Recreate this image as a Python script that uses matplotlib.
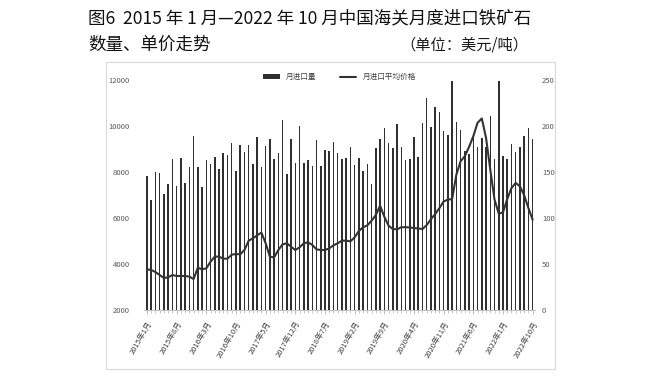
import matplotlib
matplotlib.use('Agg')
import matplotlib.pyplot as plt
from matplotlib.patches import Rectangle

plt.rcParams['font.family'] = ['Noto Sans CJK SC', 'DejaVu Sans']

# 月进口量（万吨），2015年1月起
import_qty = [7830, 6780, 8000, 7970, 7040, 7480, 8560, 7390, 8590, 7510, 8200, 9560,
              8200, 7350, 8520, 8350, 8640, 8130, 8810, 8740, 9260, 8040, 9160, 8880,
              9170, 8330, 9510, 8200, 9130, 9420, 8580, 8840, 10250, 7910, 9430, 8380,
              9980, 8390, 8540, 8260, 9390, 8270, 8970, 8910, 9300, 8810, 8580, 8620,
              9090, 8290, 8620, 8060, 8350, 7480, 9040, 9450, 9900, 9260, 9030, 10100,
              9090, 8520, 8570, 9510, 8650, 10150, 11220, 9970, 10830, 10610, 9780, 9620,
              11960, 10170, 9840, 8930, 8800, 9710, 9070, 9500, 9070, 10430, 8560, 11960,
              8680, 8560, 9200, 8880, 9070, 9550, 9910, 9450]
# 月进口平均价格（美元/吨）
avg_price = [44.2, 43.5, 41.3, 38.0, 34.8, 35.5, 38.0, 37.0, 37.0, 37.0, 36.2, 33.7,
             46.0, 44.2, 45.3, 52.5, 58.0, 58.0, 55.8, 55.8, 60.1, 60.9, 60.5, 65.2,
             75.4, 77.9, 81.2, 84.1, 72.5, 58.0, 57.2, 65.2, 71.4, 72.5, 68.8, 65.2,
             68.1, 72.5, 73.6, 70.7, 65.9, 65.2, 65.2, 67.0, 70.3, 72.5, 75.4, 75.4,
             74.6, 79.0, 85.9, 89.9, 92.0, 97.1, 103.3, 113.4, 101.4, 91.7, 88.0, 87.7,
             90.0, 90.0, 89.7, 89.0, 88.7, 88.0, 92.3, 98.8, 104.3, 110.8, 118.0, 120.0,
             120.6, 147.2, 161.7, 167.2, 177.3, 189.0, 203.5, 208.2, 187.1, 152.6, 120.0, 104.7,
             106.1, 120.6, 132.6, 138.1, 134.4, 124.6, 110.8, 98.0]
tick_labels = ['2015年1月', '2015年8月', '2016年3月', '2016年10月', '2017年5月', '2017年12月',
               '2018年7月', '2019年2月', '2019年9月', '2020年4月', '2020年11月', '2021年6月',
               '2022年1月', '2022年10月']

x = list(range(len(import_qty)))

fig = plt.figure(figsize=(6.6, 3.81), dpi=100)

# 外框
fig.patches.append(Rectangle((106 / 660, 1 - 369 / 381), 449 / 660, 307 / 381,
                             transform=fig.transFigure, fill=False,
                             edgecolor='#d9d9d9', linewidth=0.8))

# 标题
fig.text(88 / 660, 1 - 18 / 381, '图6  2015 年 1 月—2022 年 10 月中国海关月度进口铁矿石',
         fontsize=12.6, va='center', ha='left', color='#111111', fontweight='medium')
fig.text(88 / 660, 1 - 45 / 381, '数量、单价走势', fontsize=12.6, va='center', ha='left',
         color='#111111', fontweight='medium')
fig.text(400 / 660, 1 - 45 / 381, '（单位：美元/吨）', fontsize=11, va='center', ha='left',
         color='#1a1a1a')

ax = fig.add_axes([144 / 660, 1 - 310 / 381, 391 / 660, 230 / 381])
ax.bar(x, import_qty, width=0.36, color='#303030', label='月进口量', zorder=2)
ax.set_ylim(2000, 12000)
ax.set_xlim(-0.7, len(x) - 0.45)
ax.set_yticks(range(2000, 12001, 2000))
ax.tick_params(axis='y', length=0, labelsize=5.5, colors='#595959', pad=10)

ax2 = ax.twinx()
ax2.plot(x, avg_price, color='#333333', linewidth=1.5, label='月进口平均价格',
         solid_joinstyle='round', solid_capstyle='round', zorder=3)
ax2.set_ylim(0, 250)
ax2.set_yticks(range(0, 251, 50))
ax2.tick_params(axis='y', length=0, labelsize=5.5, colors='#595959', pad=5)

for a in (ax, ax2):
    for s in ('top', 'left', 'right'):
        a.spines[s].set_visible(False)
    a.spines['bottom'].set_color('#bfbfbf')
    a.spines['bottom'].set_linewidth(0.6)

ax.set_xticks(x[::7])
ax.set_xticks(x, minor=True)
ax.set_xticklabels(tick_labels, rotation=60, ha='right', rotation_mode='anchor',
                   fontsize=5.5, color='#404040', style='italic')
ax.tick_params(axis='x', which='major', length=3, color='#bfbfbf', pad=4)
ax.tick_params(axis='x', which='minor', length=2, color='#bfbfbf')

h1, l1 = ax.get_legend_handles_labels()
h2, l2 = ax2.get_legend_handles_labels()
ax2.legend(h1 + h2, l1 + l2, loc='upper center', bbox_to_anchor=(0.5, 1.06), ncol=2,
           frameon=False, fontsize=5.5, handlelength=2.2, columnspacing=3,
           handleheight=0.6, labelcolor='#404040')

fig.savefig('out.png', dpi=100)
